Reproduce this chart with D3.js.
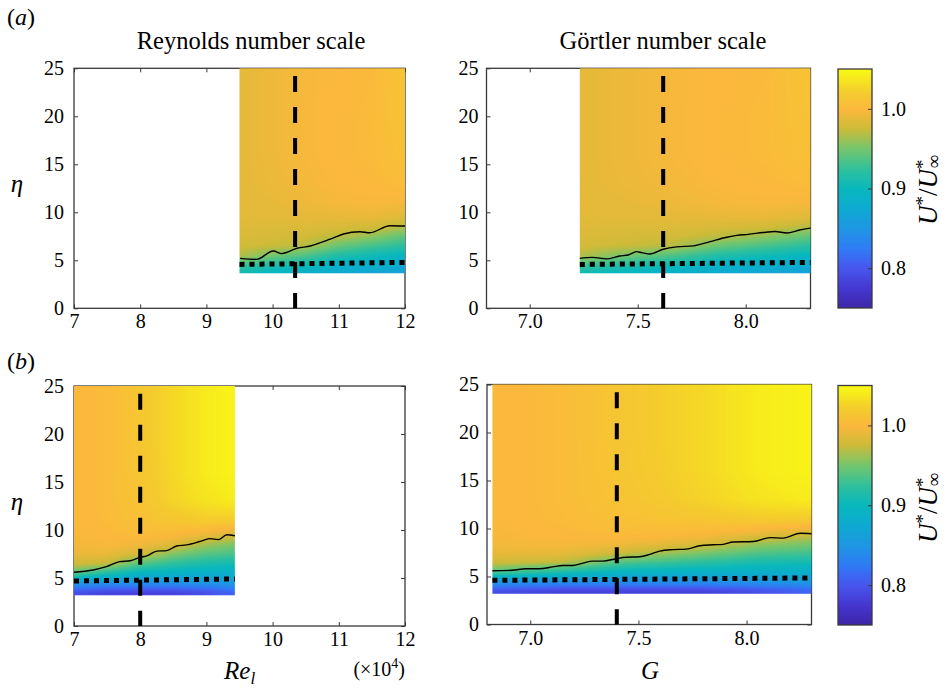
<!DOCTYPE html>
<html>
<head>
<meta charset="utf-8">
<script src="https://cdn.jsdelivr.net/npm/d3@7/dist/d3.min.js"></script>
<style>
body { margin: 0; background: #fff; }
svg { display: block; font-family: 'Liberation Serif', 'Times New Roman', serif; }
svg text { font-family: 'Liberation Serif', 'Times New Roman', serif !important; }
</style>
</head>
<body>
<svg id="figure" width="952" height="688"></svg>
<script>
// ---- values ----
var reTicks = [7, 8, 9, 10, 11, 12];
var gTicks = [7.0, 7.5, 8.0];
var etaTicks = [0, 5, 10, 15, 20, 25];
var barTicks = [0.8, 0.9, 1.0];

// wall-normal rows where the speed profiles were read
var etaRows = [3.5, 4.5, 5.5, 6.5, 7.5, 8.5, 9.5, 11, 13, 16, 20, 25];

// (a) stations, on the Reynolds and on the Gortler scale
var reColsA = [9.5, 10.0, 10.5, 11.0, 11.5, 12.0];
var gColsA = [7.232, 7.454, 7.671, 7.884, 8.094, 8.30];
var speedA = [
  [0.900, 0.930, 0.968, 0.978, 0.982, 0.985, 0.986, 0.987, 0.988, 0.988, 0.988, 0.988],
  [0.890, 0.915, 0.950, 0.974, 0.979, 0.983, 0.986, 0.989, 0.991, 0.992, 0.992, 0.992],
  [0.880, 0.905, 0.935, 0.968, 0.978, 0.984, 0.988, 0.992, 0.995, 0.997, 0.997, 0.997],
  [0.870, 0.890, 0.915, 0.945, 0.970, 0.981, 0.989, 0.996, 0.999, 1.000, 1.000, 0.999],
  [0.865, 0.885, 0.905, 0.932, 0.958, 0.979, 0.990, 0.997, 1.000, 1.002, 1.002, 1.001],
  [0.860, 0.875, 0.895, 0.920, 0.942, 0.968, 0.985, 0.996, 1.003, 1.008, 1.010, 1.012]
];

// (b) stations
var reColsB = [7.0, 7.5, 8.0, 8.5, 9.0, 9.43];
var gColsB = [6.825, 7.15, 7.42, 7.80, 8.05, 8.30];
var speedB = [
  [0.795, 0.855, 0.940, 0.978, 0.990, 0.995, 0.997, 0.998, 0.998, 0.998, 0.998, 0.998],
  [0.785, 0.845, 0.915, 0.972, 0.990, 0.997, 1.000, 1.002, 1.003, 1.003, 1.003, 1.003],
  [0.785, 0.845, 0.895, 0.938, 0.978, 0.995, 1.003, 1.008, 1.012, 1.014, 1.015, 1.015],
  [0.785, 0.845, 0.890, 0.922, 0.953, 0.984, 1.000, 1.015, 1.025, 1.028, 1.028, 1.028],
  [0.795, 0.850, 0.885, 0.912, 0.938, 0.963, 0.990, 1.020, 1.035, 1.040, 1.040, 1.040],
  [0.810, 0.855, 0.885, 0.908, 0.932, 0.953, 0.980, 1.020, 1.040, 1.045, 1.045, 1.045]
];

// lower edge of the measured window
var etaLowA = 3.65;
var etaLowB = 3.2;

// boundary-layer edge contour
var edgeReA = [9.51, 9.76, 10.01, 10.14, 10.37, 10.57, 10.87, 11.07, 11.32, 11.47, 11.77, 12.0];
var edgeEtaReA = [5.2, 5.1, 5.97, 5.7, 6.25, 6.49, 7.2, 7.74, 7.98, 7.87, 8.6, 8.57];
var edgeGA = [7.232, 7.29, 7.356, 7.417, 7.456, 7.495, 7.518, 7.556, 7.618, 7.68,
  7.758, 7.835, 7.912, 7.958, 8.012, 8.081, 8.136, 8.19, 8.25, 8.30];
var edgeEtaGA = [5.2, 5.3, 5.15, 5.45, 5.55, 5.9, 5.8, 5.65, 6.15, 6.4,
  6.5, 6.95, 7.4, 7.6, 7.7, 7.9, 8.0, 7.85, 8.15, 8.35];
var edgeReB = [7.0, 7.29, 7.49, 7.69, 7.85, 8.0, 8.1, 8.25, 8.4, 8.55, 8.7, 8.9, 9.05, 9.18, 9.31, 9.43];
var edgeEtaReB = [5.6, 5.83, 6.18, 6.7, 6.8, 7.15, 7.3, 7.8, 7.85, 8.33, 8.45, 8.8, 9.1, 9.0, 9.5, 9.4];
var edgeGB = [6.825, 6.918, 6.98, 7.042, 7.103, 7.15, 7.196, 7.243, 7.289, 7.335, 7.397, 7.444, 7.505,
  7.552, 7.598, 7.66, 7.722, 7.784, 7.845, 7.892, 7.938, 8.031, 8.109, 8.17, 8.248, 8.30];
var edgeEtaGB = [5.6, 5.65, 5.8, 5.8, 6.0, 6.15, 6.15, 6.4, 6.6, 6.6, 6.85, 7.0, 7.05,
  7.3, 7.65, 7.8, 7.85, 8.2, 8.3, 8.35, 8.6, 8.65, 9.05, 9.0, 9.5, 9.45];

// dotted reference height (ends of the line) and dashed station
var dotEtaA = [4.57, 4.78];
var dotEtaB = [4.69, 4.9];
var dotEtaGB = [4.6, 4.85];
var stationReA = 10.34;
var stationGA = 7.618;
var stationReB = 8.0;
var stationGB = 7.40;
var stationTop = 24.2;

// ---- drawing ----
var Figure = {
  svg: null,
  lut: null,
  barDomain: [0.75, 1.05],
  axisColor: '#3a3a3a',
  serif: "'Liberation Serif', 'Times New Roman', serif"
};

Figure.init = function init() {
  this.svg = d3.select('#figure');

  // parula-like map
  var stops = [0, 0.08, 0.17, 0.25, 0.33, 0.42, 0.5, 0.58, 0.67, 0.75, 0.83, 0.9, 1.0];
  var hex = ['#3e26a8', '#4536d0', '#4758ef', '#2f7cf6', '#1f96e3', '#0dabd0', '#08b8bd',
    '#30c09c', '#78c66b', '#cdbb38', '#fbb83c', '#f4cb2e', '#f9fb14'];
  var lo = this.barDomain[0], span = this.barDomain[1] - this.barDomain[0];
  this.color = d3.scaleLinear()
    .domain(stops.map(function (s) { return lo + s * span; }))
    .range(hex)
    .interpolate(d3.interpolateRgb)
    .clamp(true);

  this.lut = d3.range(256).map(function (k) {
    return d3.rgb(this.color(lo + span * k / 255));
  }, this);

  return this;
};

Figure.colorOf = function colorOf(v) {
  var k = Math.round((v - this.barDomain[0]) / (this.barDomain[1] - this.barDomain[0]) * 255);
  return this.lut[Math.max(0, Math.min(255, k))];
};

function fieldAt(cols, rows, profiles, xv, ev) {
  var i = Math.max(0, Math.min(cols.length - 2, d3.bisectRight(cols, xv) - 1));
  var j = Math.max(0, Math.min(rows.length - 2, d3.bisectRight(rows, ev) - 1));
  var tx = Math.max(0, Math.min(1, (xv - cols[i]) / (cols[i + 1] - cols[i])));
  var ty = Math.max(0, Math.min(1, (ev - rows[j]) / (rows[j + 1] - rows[j])));
  var a = profiles[i][j], b = profiles[i + 1][j];
  var c = profiles[i][j + 1], d = profiles[i + 1][j + 1];
  return (a * (1 - tx) + b * tx) * (1 - ty) + (c * (1 - tx) + d * tx) * ty;
}

Figure.styleAxis = function styleAxis(sel) {
  sel.attr('font-family', null).attr('font-size', 20)
    .style('font-family', this.serif);
  sel.select('.domain').remove();
  sel.selectAll('.tick line').attr('stroke', this.axisColor).attr('stroke-width', 1);
  sel.selectAll('.tick text').attr('fill', '#000').style('font-family', this.serif);
};

Figure.drawPanel = function drawPanel(p) {
  var x = d3.scaleLinear().domain(p.xDomain).range([p.left, p.right]);
  var y = d3.scaleLinear().domain([0, 25]).range([p.bottom, p.top]);
  var g = this.svg.append('g');

  // colour field, shaded between the read stations
  var hx0 = x(p.cols[0]), hx1 = x(p.cols[p.cols.length - 1]);
  var hy0 = y(25), hy1 = y(p.etaLow);
  var w = Math.round(hx1 - hx0), h = Math.round(hy1 - hy0);
  var canvas = document.createElement('canvas');
  canvas.width = w;
  canvas.height = h;
  var ctx = canvas.getContext('2d');
  var img = ctx.createImageData(w, h);
  for (var j = 0; j < h; j++) {
    var ev = y.invert(hy0 + (j + 0.5) * (hy1 - hy0) / h);
    for (var i = 0; i < w; i++) {
      var xv = x.invert(hx0 + (i + 0.5) * (hx1 - hx0) / w);
      var col = this.colorOf(fieldAt(p.cols, etaRows, p.profiles, xv, ev));
      var o = (j * w + i) * 4;
      img.data[o] = col.r;
      img.data[o + 1] = col.g;
      img.data[o + 2] = col.b;
      img.data[o + 3] = 255;
    }
  }
  ctx.putImageData(img, 0, 0);

  // ticks first, field on top (axes layer at the bottom)
  g.append('g').attr('transform', 'translate(0,' + p.bottom + ')')
    .call(d3.axisBottom(x).tickValues(p.xTicks).tickFormat(p.xFormat)
      .tickSizeInner(-4).tickSizeOuter(0).tickPadding(6))
    .call(this.styleAxis.bind(this));
  g.append('g').attr('transform', 'translate(0,' + p.top + ')')
    .call(d3.axisTop(x).tickValues(p.xTicks).tickFormat('')
      .tickSizeInner(-4).tickSizeOuter(0))
    .call(this.styleAxis.bind(this));
  g.append('g').attr('transform', 'translate(' + p.left + ',0)')
    .call(d3.axisLeft(y).tickValues(etaTicks)
      .tickSizeInner(-4).tickSizeOuter(0).tickPadding(p.yPad))
    .call(this.styleAxis.bind(this));
  g.append('g').attr('transform', 'translate(' + p.right + ',0)')
    .call(d3.axisRight(y).tickValues(etaTicks).tickFormat('')
      .tickSizeInner(-4).tickSizeOuter(0))
    .call(this.styleAxis.bind(this));

  g.append('rect')
    .attr('x', p.left).attr('y', p.top)
    .attr('width', p.right - p.left).attr('height', p.bottom - p.top)
    .attr('fill', 'none').attr('stroke', this.axisColor).attr('stroke-width', 1.3);

  g.append('image')
    .attr('x', hx0).attr('y', hy0)
    .attr('width', hx1 - hx0).attr('height', hy1 - hy0)
    .attr('preserveAspectRatio', 'none')
    .attr('href', canvas.toDataURL());

  var line = d3.line()
    .x(function (d) { return x(d[0]); })
    .y(function (d) { return y(d[1]); });

  g.append('path')
    .datum(d3.zip(p.edgeX, p.edgeEta))
    .attr('d', line.curve(d3.curveMonotoneX))
    .attr('fill', 'none').attr('stroke', '#000').attr('stroke-width', 1.4);
  line.curve(d3.curveLinear);

  g.append('path')
    .datum([[p.cols[0], p.dotEta[0]], [p.cols[p.cols.length - 1], p.dotEta[1]]])
    .attr('d', line)
    .attr('fill', 'none').attr('stroke', '#000').attr('stroke-width', 5)
    .attr('stroke-dasharray', '5,5');

  g.append('path')
    .datum([[p.station, stationTop], [p.station, 0]])
    .attr('d', line)
    .attr('fill', 'none').attr('stroke', '#000').attr('stroke-width', 4)
    .attr('stroke-dasharray', '16,15');
};

Figure.drawColorbar = function drawColorbar(b) {
  var c = d3.scaleLinear().domain(this.barDomain).range([b.bottom, b.top]);
  var h = Math.round(b.bottom - b.top);
  var canvas = document.createElement('canvas');
  canvas.width = 1;
  canvas.height = h;
  var ctx = canvas.getContext('2d');
  for (var j = 0; j < h; j++) {
    ctx.fillStyle = this.colorOf(c.invert(b.top + j + 0.5)).toString();
    ctx.fillRect(0, j, 1, 1);
  }
  var g = this.svg.append('g');
  g.append('image')
    .attr('x', b.left).attr('y', b.top)
    .attr('width', b.right - b.left).attr('height', b.bottom - b.top)
    .attr('preserveAspectRatio', 'none')
    .attr('href', canvas.toDataURL());
  g.append('g').attr('transform', 'translate(' + b.right + ',0)')
    .call(d3.axisRight(c).tickValues(barTicks).tickFormat(d3.format('.1f'))
      .tickSizeInner(-4).tickSizeOuter(0).tickPadding(9))
    .call(this.styleAxis.bind(this));
  g.append('rect')
    .attr('x', b.left).attr('y', b.top)
    .attr('width', b.right - b.left).attr('height', b.bottom - b.top)
    .attr('fill', 'none').attr('stroke', this.axisColor).attr('stroke-width', 1.3);

  // U*/U*_inf, rotated
  var t = g.append('text')
    .attr('transform', 'translate(' + b.labelX + ',' + b.labelY + ') rotate(-90)')
    .attr('text-anchor', 'middle').attr('font-size', 27);
  t.append('tspan').attr('font-style', 'italic').text('U');
  t.append('tspan').attr('font-size', 19).attr('dy', -8).text('*');
  t.append('tspan').attr('dy', 8).text('/');
  t.append('tspan').attr('font-style', 'italic').text('U');
  t.append('tspan').attr('font-size', 19).attr('dy', -8).text('*');
  t.append('tspan').attr('font-size', 19).attr('dx', -9).attr('dy', 11).text('\u221E');
};

Figure.drawLabels = function drawLabels() {
  var svg = this.svg;

  function tag(xp, yp, letter) {
    var t = svg.append('text').attr('x', xp).attr('y', yp).attr('font-size', 24);
    t.append('tspan').text('(');
    t.append('tspan').attr('font-style', 'italic').text(letter);
    t.append('tspan').text(')');
  }
  tag(7, 25, 'a');
  tag(7, 369, 'b');

  svg.append('text').attr('x', 251).attr('y', 49).attr('text-anchor', 'middle')
    .attr('font-size', 24.5).text('Reynolds number scale');
  svg.append('text').attr('x', 663).attr('y', 49).attr('text-anchor', 'middle')
    .attr('font-size', 24.5).text('G\u00F6rtler number scale');

  [192, 510].forEach(function (yp) {
    svg.append('text').attr('x', 17).attr('y', yp).attr('text-anchor', 'middle')
      .attr('font-size', 25).attr('font-style', 'italic').text('\u03B7');
  });

  var re = svg.append('text').attr('x', 224).attr('y', 679).attr('font-size', 25)
    .attr('font-style', 'italic');
  re.append('tspan').text('Re');
  re.append('tspan').attr('font-size', 17).attr('dy', 5).text('l');

  var mult = svg.append('text').attr('x', 405).attr('y', 676).attr('font-size', 20)
    .attr('text-anchor', 'end');
  mult.append('tspan').text('(\u00D710');
  mult.append('tspan').attr('font-size', 14).attr('dy', -8).text('4');
  mult.append('tspan').attr('dy', 8).text(')');

  svg.append('text').attr('x', 650).attr('y', 679).attr('text-anchor', 'middle')
    .attr('font-size', 25).attr('font-style', 'italic').text('G');
};

Figure.init();

var fmtInt = d3.format('d');
var fmtOne = d3.format('.1f');

Figure.drawPanel({
  left: 74, right: 405, top: 68.3, bottom: 308.3, yPad: 10,
  xDomain: [7, 12], xTicks: reTicks, xFormat: fmtInt,
  cols: reColsA, profiles: speedA, etaLow: etaLowA,
  edgeX: edgeReA, edgeEta: edgeEtaReA, dotEta: dotEtaA, station: stationReA
});
Figure.drawPanel({
  left: 486.5, right: 810.5, top: 68.3, bottom: 308.3, yPad: 8,
  xDomain: [6.8, 8.3], xTicks: gTicks, xFormat: fmtOne,
  cols: gColsA, profiles: speedA, etaLow: etaLowA,
  edgeX: edgeGA, edgeEta: edgeEtaGA, dotEta: dotEtaA, station: stationGA
});
Figure.drawPanel({
  left: 74, right: 405, top: 386, bottom: 626, yPad: 10,
  xDomain: [7, 12], xTicks: reTicks, xFormat: fmtInt,
  cols: reColsB, profiles: speedB, etaLow: etaLowB,
  edgeX: edgeReB, edgeEta: edgeEtaReB, dotEta: dotEtaB, station: stationReB
});
Figure.drawPanel({
  left: 487, right: 811.5, top: 384.5, bottom: 624.5, yPad: 8,
  xDomain: [6.8, 8.3], xTicks: gTicks, xFormat: fmtOne,
  cols: gColsB, profiles: speedB, etaLow: etaLowB,
  edgeX: edgeGB, edgeEta: edgeEtaGB, dotEta: dotEtaGB, station: stationGB
});

Figure.drawColorbar({ left: 838, right: 872, top: 69, bottom: 308, labelX: 937, labelY: 190 });
Figure.drawColorbar({ left: 838, right: 872, top: 385.5, bottom: 625, labelX: 937, labelY: 508 });

Figure.drawLabels();
</script>
</body>
</html>
